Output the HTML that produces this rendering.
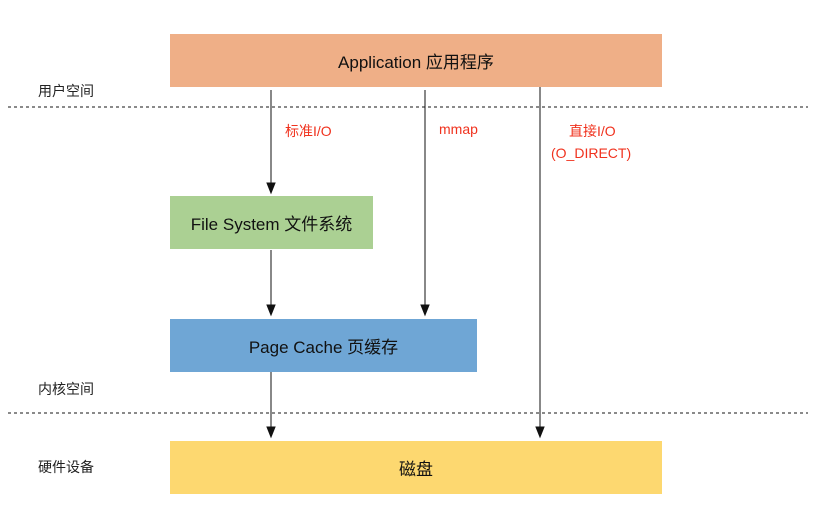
<!DOCTYPE html>
<html><head><meta charset="utf-8"><style>
body{margin:0;width:816px;height:527px;background:#fff;position:relative;overflow:hidden;font-family:"Liberation Sans","Noto Sans CJK SC",sans-serif;}
.b{position:absolute;display:flex;align-items:center;justify-content:center;font-size:17px;color:#111;}
.t{position:absolute;font-size:14px;color:#222;}
.r{position:absolute;font-size:14px;color:#f0321e;}
</style></head><body>
<div class="b" style="left:170px;top:34px;width:492px;height:53px;background:#efaf87">Application 应用程序</div>
<div class="b" style="left:170px;top:196px;width:203px;height:53px;background:#abd093">File System 文件系统</div>
<div class="b" style="left:170px;top:319px;width:307px;height:53px;background:#6fa6d5">Page Cache 页缓存</div>
<div class="b" style="left:170px;top:441px;width:492px;height:53px;background:#fdd870">磁盘</div>
<div class="t" style="left:38px;top:81px">用户空间</div>
<div class="t" style="left:38px;top:379px">内核空间</div>
<div class="t" style="left:38px;top:457px">硬件设备</div>
<div class="r" style="left:285px;top:121px">标准I/O</div>
<div class="r" style="left:439px;top:121px">mmap</div>
<div class="r" style="left:569px;top:121px">直接I/O</div>
<div class="r" style="left:551px;top:145px">(O_DIRECT)</div>
<svg width="816" height="527" style="position:absolute;left:0;top:0">
<defs><marker id="a" markerWidth="8" markerHeight="10" refX="4" refY="9" orient="auto-start-reverse" markerUnits="userSpaceOnUse"><path d="M0,0 L8,0 L4,10 z" fill="#111" transform="rotate(0)"/></marker></defs>
<g stroke="#444" stroke-width="1.2" stroke-dasharray="3,3"><line x1="8" y1="107" x2="808" y2="107"/><line x1="8" y1="413" x2="808" y2="413"/></g>
<g stroke="#111" stroke-width="1" fill="#111">
<line x1="271" y1="90" x2="271" y2="184"/><path d="M267,183 L275,183 L271,193 z"/>
<line x1="271" y1="250" x2="271" y2="306"/><path d="M267,305 L275,305 L271,315 z"/>
<line x1="425" y1="90" x2="425" y2="306"/><path d="M421,305 L429,305 L425,315 z"/>
<line x1="271" y1="372" x2="271" y2="428"/><path d="M267,427 L275,427 L271,437 z"/>
<line x1="540" y1="87" x2="540" y2="428"/><path d="M536,427 L544,427 L540,437 z"/>
</g></svg>
</body></html>
